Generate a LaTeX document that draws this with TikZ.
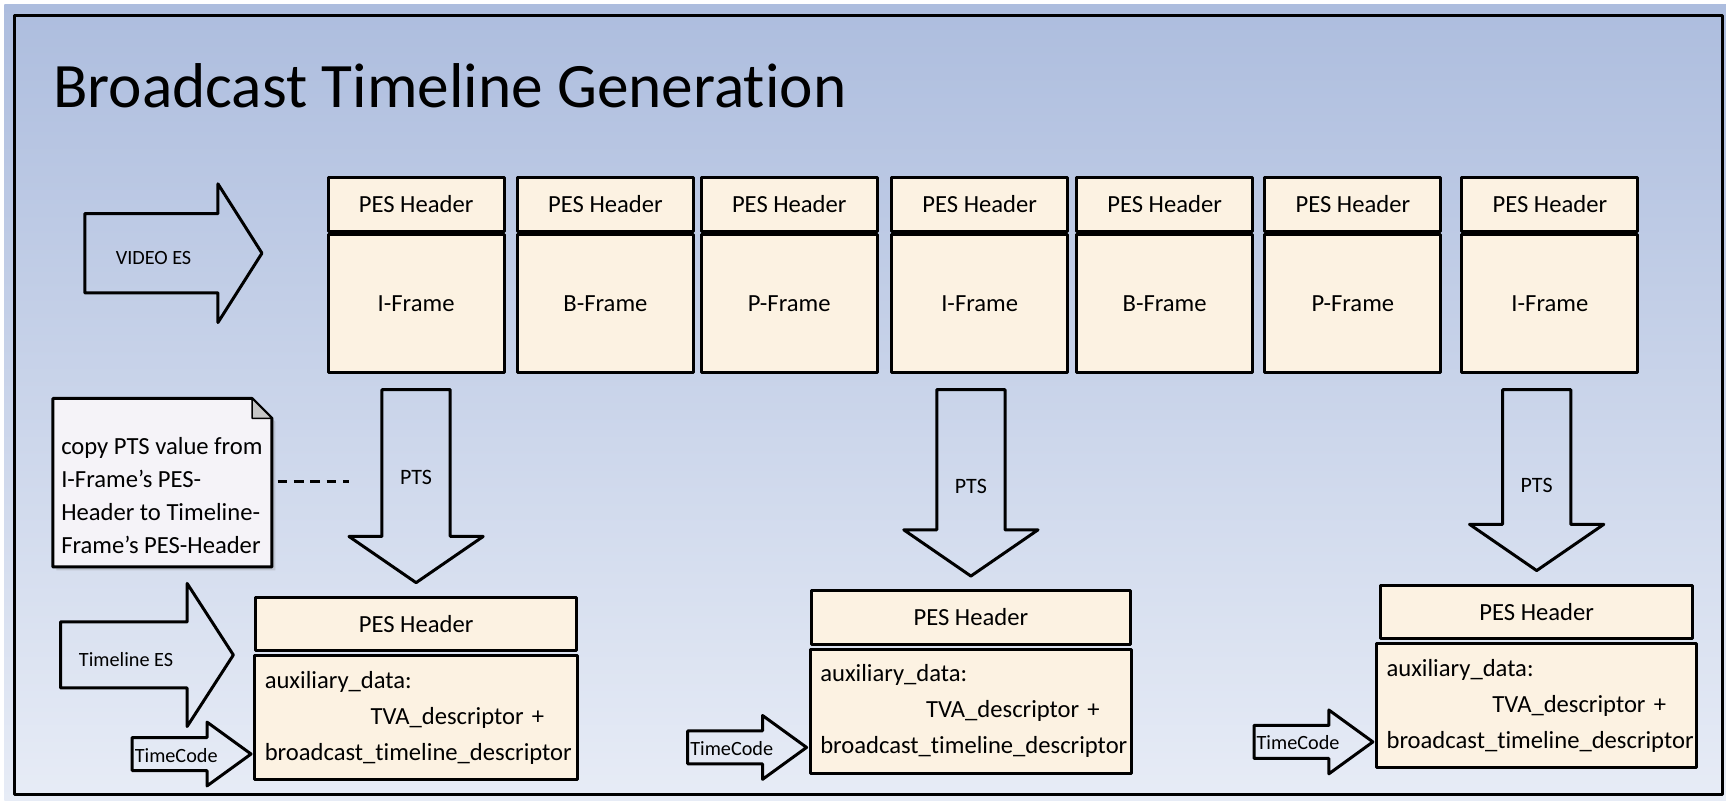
\documentclass[tikz,border=0pt]{standalone}
\usepackage{fontspec}
\setmainfont{Carlito}[Ligatures={TeX,NoCommon}]
\usetikzlibrary{positioning,calc,shadows}

\definecolor{boxfill}{RGB}{252,242,226}
\definecolor{notefill}{RGB}{245,243,248}
\definecolor{skytop}{RGB}{173,189,222}
\definecolor{skybot}{RGB}{231,236,246}

\tikzset{
  sketch/.style={draw=black, line width=1.7pt, line join=round},
  pesbox/.style={sketch, fill=boxfill, inner sep=0pt, font=\fontsize{14}{17}\selectfont},
  fatarrow/.style={sketch},
  arrowlab/.style={font=\fontsize{11.5}{14}\selectfont, inner sep=0pt},
}

\begin{document}
\begin{tikzpicture}[x=0.022cm, y=-0.022cm]
  \useasboundingbox (0,0) rectangle (1568,727);
  % backdrop and frame
  \shade[top color=skytop, bottom color=skybot] (4,4) rectangle (1568,727);
  \draw[sketch] (13,14) rectangle (1565,722);
  \node[anchor=west, inner sep=0pt, font=\fontsize{36}{40}\selectfont] (title) at (48,78) {Broadcast Timeline Generation};

  % video ES: one PES header on top of every picture
  \foreach \n/\x/\lab in {1/378/I-Frame, 2/550/B-Frame, 3/717/P-Frame, 4/890/I-Frame, 5/1058/B-Frame, 6/1229/P-Frame, 7/1408/I-Frame}{
    \node[pesbox, minimum width=3.52cm, minimum height=1.08cm] (hd\n) at (\x,185.5) {PES Header};
    \node[pesbox, minimum width=3.52cm, minimum height=2.77cm, below=0pt of hd\n] (fr\n) {\lab};
  }

  % timeline ES packets
  \foreach \n/\x/\y/\w/\tw in {1/378/567/6.42/6.05, 2/882/561/6.38/6.02, 3/1396/556/6.24/6.0}{
    \node[pesbox, minimum width=\w cm, minimum height=1.07cm] (th\n) at (\x,\y) {PES Header};
    \node[pesbox, below=1pt of th\n, inner xsep=0.2cm, text width=\tw cm, minimum height=2.48cm,
          align=left, font=\fontsize{14}{20.5}\selectfont] (tb\n)
      {auxiliary\_data:\\\hspace*{4.3em}TVA\_descriptor +\\broadcast\_timeline\_descriptor};
  }

  % stream arrows
  \foreach \n/\xa/\xb/\xc/\yc/\bw/\hw/\lab in {video/77/198/238/230/36/63/VIDEO ES, tl/55/170/212/595/30/65/Timeline ES}{
    \draw[fatarrow] (\xa,\yc-\bw) -- (\xb,\yc-\bw) -- (\xb,\yc-\hw) -- (\xc,\yc)
      -- (\xb,\yc+\hw) -- (\xb,\yc+\bw) -- (\xa,\yc+\bw) -- cycle;
    \node[arrowlab] (\n) at ({(\xa+\xb)/2+2},\yc+4) {\lab};
  }

  % PTS copied from each I-Frame down to the timeline packet
  \foreach \f/\t/\n/\dy in {fr1/th1/1/-8, fr4/th2/2/3, fr7/th3/3/5}{
    \coordinate (s\n) at ($(\f.south)+(0,14)$);
    \coordinate (e\n) at ($(\t.north)+(0,-12)$);
    \draw[fatarrow] ($(e\n|-s\n)+(-31,0)$) -- ++(62,0) -- ($(e\n)+(31,-42)$) -- ++(30,0)
      -- (e\n) -- ++(-61,-42) -- ++(30,0) -- cycle;
    \node[arrowlab, font=\fontsize{12.5}{14}\selectfont] (pts\n) at ($($(e\n|-s\n)!0.5!(e\n)$)+(0,\dy)$) {PTS};
  }

  % time code fed into every packet
  \foreach \n in {1,2,3}{
    \coordinate (tip\n) at ($(tb\n.west)+(-2,33)$);
    \draw[fatarrow] (tip\n) -- ++(-40,-29) -- ++(0,14) -- ++(-68,0) -- ++(0,30)
      -- ++(68,0) -- ++(0,14) -- cycle;
    \node[arrowlab] (tc\n) at ($(tip\n)+(-68,1)$) {TimeCode};
  }

  % note with folded corner
  \filldraw[sketch, fill=notefill, drop shadow={shadow xshift=2pt, shadow yshift=-2pt, opacity=.25}]
    (48,362) -- (229,362) -- (247,380) -- (247,515) -- (48,515) -- cycle;
  \filldraw[fill=gray!45, line width=0.8pt, line join=round] (229,362) -- (229,380) -- (247,380) -- cycle;
  \node[anchor=west, align=left, font=\fontsize{14}{18.7}\selectfont] (note) at (50,450)
    {copy PTS value from\\I-Frame's PES-\\Header to Timeline-\\Frame's PES-Header};
  \draw[sketch, dash pattern=on 5.5pt off 3.8pt] ($(note.east)+(8,-13)$) -- ($(e1|-note.east)+(-61,-13)$);
\end{tikzpicture}
\end{document}
